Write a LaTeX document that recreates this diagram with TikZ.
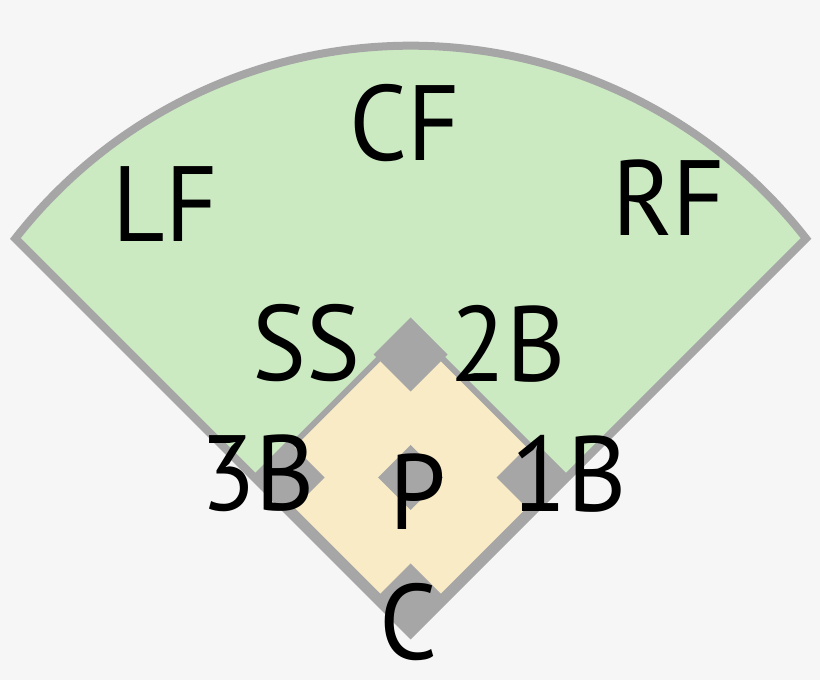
\documentclass[tikz,border=0pt]{standalone}
\usepackage{fontspec}
\setmainfont{PT Sans}[FakeStretch=0.95]
\definecolor{bgc}{HTML}{F6F6F6}
\definecolor{grass}{HTML}{CBEAC2}
\definecolor{dirt}{HTML}{F9EBC5}
\definecolor{chalk}{HTML}{A6A6A6}
\tikzset{
  fielder/.style={inner sep=0pt, anchor=base, text=black, font=\fontsize{107}{107}\selectfont},
  basesq/.style={fill=chalk, draw=none},
}
\begin{document}
\begin{tikzpicture}[x=1pt,y=1pt]
\fill[bgc] (0,0) rectangle (820,680);
\useasboundingbox (0,0) rectangle (820,680);
% outfield fan
\coordinate (apex) at (410.7,46.2);
\coordinate (lc) at (15.4,441.5);
\fill[grass] (apex) -- (lc) arc[start angle=142, end angle=38, radius=501.65pt] -- cycle;
\draw[chalk, line width=8pt, line join=miter] (apex) -- (lc) arc[start angle=142, end angle=38, radius=501.65pt] -- cycle;
% infield diamond
\coordinate (ctr) at (410.7,202.5);
\draw[chalk, fill=dirt, line width=6pt, line join=miter]
  ([yshift=150.7pt]ctr) -- ([xshift=150.7pt]ctr) -- ([yshift=-150.7pt]ctr) -- ([xshift=-150.7pt]ctr) -- cycle;
% bases
\coordinate (b2) at (410.7,325.5);
\coordinate (b1) at (533.7,202.5);
\coordinate (b3) at (287.7,202.5);
\coordinate (hp) at (410.7,79.5);
\foreach \b in {b1,b2,b3,hp}{
  \fill[basesq] ([yshift=37pt]\b) -- ([xshift=37pt]\b) -- ([yshift=-37pt]\b) -- ([xshift=-37pt]\b) -- cycle;
}
\fill[basesq] ([yshift=32.5pt]ctr) -- ([xshift=32.5pt]ctr) -- ([yshift=-32.5pt]ctr) -- ([xshift=-32.5pt]ctr) -- cycle;
% labels
\node[fielder] (cf) at (405,519) {CF};
\node[fielder] (lf) at (165,438) {LF};
\node[fielder] (rf) at (669,444) {RF};
\node[fielder] (ss) at (306,299) {SS};
\node[fielder] (sb) at (508,298) {2B};
\node[fielder] (tb) at (257.5,169) {3B};
\node[fielder] (fb) at (569,168.5) {1B};
\node[fielder] (p) at (418,150) {P};
\node[fielder] (c) at (409,20) {C};
\end{tikzpicture}
\end{document}
